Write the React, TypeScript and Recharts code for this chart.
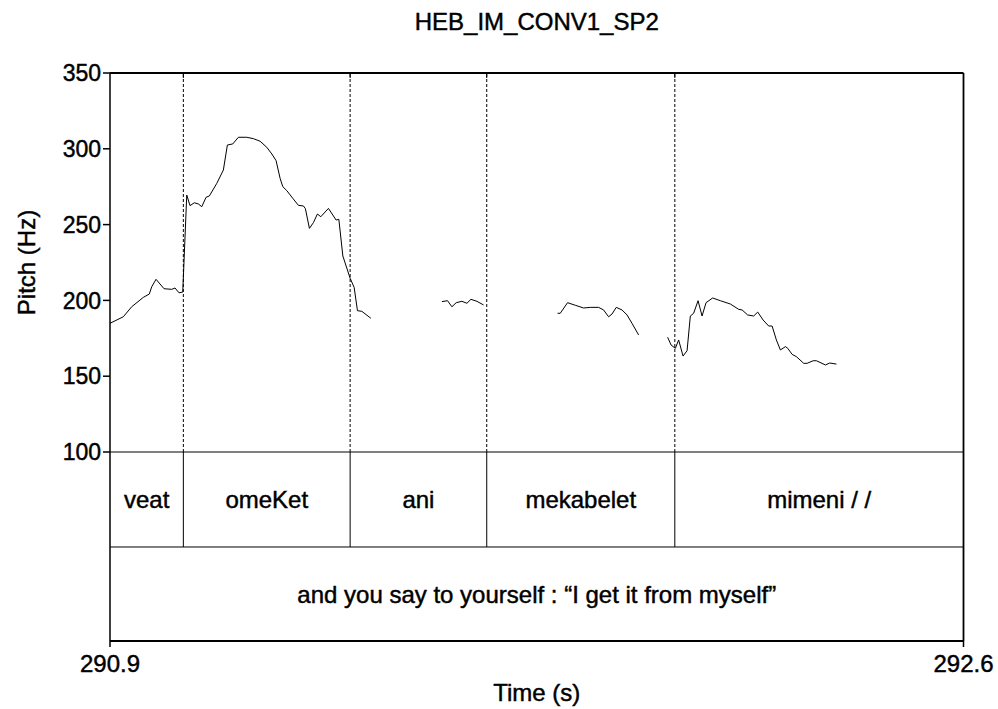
import React from 'react';
import { ComposedChart, Line, XAxis, YAxis, ReferenceLine, ReferenceArea, Label } from 'recharts';

const FONT = '"Liberation Sans", Arial, Helvetica, sans-serif';
const TITLE = 'HEB_IM_CONV1_SP2';
const X_LABEL = 'Time (s)';
const Y_LABEL = 'Pitch (Hz)';
const X_MIN = 290.9;
const X_MAX = 292.6;
const X_TICKS = [290.9, 292.6];
const Y_TICKS = [100, 150, 200, 250, 300, 350];
const Y_MAX = 350;
const PITCH_FLOOR = 100;
// tier rows sit below the pitch range on the same vertical axis
const TIER_MID = 37.34;
const Y_MIN = -24.67;

const WORD_BOUNDARIES = [291.0461, 291.3783, 291.6504, 292.025];
const WORD_LABELS = ['veat', 'omeKet', 'ani', 'mekabelet', 'mimeni / /'];
const SENTENCE_LABEL = 'and you say to yourself : \u201CI get it from myself\u201D';

const seg1Time = [290.900, 290.9265, 290.9432, 290.9664, 290.9783, 290.9831, 290.9917, 291.0076, 291.0230, 291.0295,
  291.0375, 291.0449, 291.0529, 291.0594, 291.0680, 291.0760, 291.0828, 291.0913, 291.0979, 291.1127,
  291.1258, 291.1338, 291.1445, 291.1557, 291.1724, 291.1856, 291.1989, 291.2123, 291.2223, 291.2308,
  291.2388, 291.2442, 291.2522, 291.2641, 291.2753, 291.2852, 291.2892, 291.2972, 291.3052, 291.3131,
  291.3199, 291.3351, 291.3504, 291.3558, 291.3638, 291.3783, 291.3863, 291.3929, 291.4016, 291.4196];
const seg1Hz = [184.9, 189.2, 195.8, 202.0, 204.2, 209.0, 213.9, 207.7, 207.3, 208.2,
  205.0, 205.5, 269.5, 262.5, 264.4, 263.6, 261.8, 268.0, 268.9, 277.2,
  286.0, 302.5, 303.2, 307.6, 307.6, 306.7, 305.0, 301.0, 296.6, 292.2,
  280.5, 275.0, 272.4, 267.3, 262.7, 262.3, 260.5, 247.5, 251.3, 257.0,
  255.2, 260.7, 253.0, 253.5, 229.3, 214.6, 208.6, 193.2, 192.8, 188.2];

const seg2Time = [291.5611, 291.5723, 291.5810, 291.5896, 291.6009, 291.6109, 291.6189, 291.6308, 291.6440];
const seg2Hz = [199.2, 199.8, 195.8, 198.5, 199.4, 198.1, 200.7, 199.4, 197.0];

const seg3Time = [291.7915, 291.7968, 291.8114, 291.8267, 291.8433, 291.8566, 291.8732, 291.8831, 291.8931, 291.8999,
  291.9084, 291.9198, 291.9298, 291.9397, 291.9529];
const seg3Hz = [191.5, 191.5, 198.5, 196.8, 195.0, 195.4, 195.4, 193.7, 189.2, 191.0,
  195.4, 193.7, 190.4, 184.9, 177.2];

const seg4Time = [292.0107, 292.0175, 292.0261, 292.0326, 292.0414, 292.0494, 292.0559, 292.0625, 292.0713, 292.0793,
  292.0872, 292.1004, 292.1157, 292.1357, 292.1522, 292.1590, 292.1701, 292.1821, 292.1901, 292.2008,
  292.2120, 292.2188, 292.2273, 292.2353, 292.2453, 292.2499, 292.2586, 292.2672, 292.2817, 292.2885,
  292.3005, 292.3071, 292.3250, 292.3335, 292.3469];
const seg4Hz = [175.7, 170.6, 168.4, 173.9, 163.3, 166.8, 189.7, 191.5, 199.8, 189.7,
  198.5, 201.6, 199.8, 197.6, 194.1, 193.7, 190.4, 189.7, 192.3, 187.1,
  183.1, 183.1, 173.9, 167.3, 169.5, 168.4, 164.4, 162.9, 158.5, 158.5,
  160.2, 160.2, 157.4, 158.7, 158.0];

const toRows = (ts: number[], hs: number[]) => ts.map((t, i) => ({ t, hz: hs[i] }));
const SEGMENTS = [toRows(seg1Time, seg1Hz), toRows(seg2Time, seg2Hz), toRows(seg3Time, seg3Hz), toRows(seg4Time, seg4Hz)];

const W = 998;
const H = 709;
const TXT_STROKE = 0.45;

const XLabel = (props: any) => {
  const vb = props.viewBox || {};
  return (
    <text x={vb.x + vb.width / 2} y={vb.y + 60} textAnchor="middle" fontSize={24} fontFamily={FONT} fill="#000"
      stroke="#000" strokeWidth={TXT_STROKE}>
      {X_LABEL}
    </text>
  );
};

const YLabel = (props: any) => {
  const vb = props.viewBox || {};
  const cy = vb.y + (vb.height * (Y_MAX - (Y_MAX + PITCH_FLOOR) / 2)) / (Y_MAX - Y_MIN);
  const cx = vb.x + 27;
  return (
    <text x={cx} y={cy} transform={`rotate(-90 ${cx} ${cy})`} textAnchor="middle" dominantBaseline="central"
      fontSize={24} fontFamily={FONT} fill="#000" stroke="#000" strokeWidth={TXT_STROKE}>
      {Y_LABEL}
    </text>
  );
};

export default function App() {
  const edges = [X_MIN, ...WORD_BOUNDARIES, X_MAX];
  const lbl = (value: string) => ({ value, position: 'center' as const, fill: '#000', fontSize: 24, fontFamily: FONT, stroke: '#000', strokeWidth: TXT_STROKE });
  return (
    <div style={{ position: 'relative', width: W, height: H, fontFamily: FONT }}>
      <style>{'body{margin:0;}'}</style>
      <div style={{ position: 'absolute', left: 110, width: 853.5, top: 8, textAlign: 'center', fontSize: 24, lineHeight: '28px', color: '#000', fontFamily: FONT, WebkitTextStroke: `${TXT_STROKE}px #000` }}>
        {TITLE}
      </div>
      <ComposedChart width={W} height={H} margin={{ top: 73, right: 34.5, bottom: 0, left: 0 }}>
        <XAxis type="number" dataKey="t" domain={[X_MIN, X_MAX]} ticks={X_TICKS} interval={0} allowDataOverflow
          height={68} tickSize={6} tickMargin={8} tickFormatter={(v: number) => v.toFixed(1)}
          axisLine={{ stroke: '#000', strokeWidth: 1.8 }} tickLine={{ stroke: '#000', strokeWidth: 1.5 }}
          tick={{ fill: '#000', fontSize: 24, fontFamily: FONT, stroke: '#000', strokeWidth: TXT_STROKE }}
          label={<Label content={XLabel} />} />
        <YAxis type="number" domain={[Y_MIN, Y_MAX]} ticks={Y_TICKS} interval={0} allowDataOverflow width={110}
          tickSize={7} tickMargin={2}
          axisLine={{ stroke: '#000', strokeWidth: 1.5 }} tickLine={{ stroke: '#000', strokeWidth: 1.5 }}
          tick={{ fill: '#000', fontSize: 23, fontFamily: FONT, stroke: '#000', strokeWidth: TXT_STROKE }}
          label={<Label content={YLabel} />} />
        <ReferenceLine y={Y_MAX} stroke="#000" strokeWidth={1.8} ifOverflow="visible" />
        <ReferenceLine x={X_MAX} stroke="#000" strokeWidth={1.8} ifOverflow="visible" />
        <ReferenceLine y={PITCH_FLOOR} stroke="#000" strokeWidth={1} />
        <ReferenceLine y={TIER_MID} stroke="#000" strokeWidth={1} />
        {WORD_BOUNDARIES.map((b) => (
          <ReferenceLine key={`d${b}`} segment={[{ x: b, y: PITCH_FLOOR }, { x: b, y: Y_MAX }]} stroke="#000" strokeWidth={1} strokeDasharray="3 2" />
        ))}
        {WORD_BOUNDARIES.map((b) => (
          <ReferenceLine key={`t${b}`} segment={[{ x: b, y: Y_MAX - 3.3 }, { x: b, y: Y_MAX }]} stroke="#000" strokeWidth={1} />
        ))}
        {WORD_BOUNDARIES.map((b) => (
          <ReferenceLine key={`s${b}`} segment={[{ x: b, y: TIER_MID }, { x: b, y: PITCH_FLOOR }]} stroke="#000" strokeWidth={1} />
        ))}
        {WORD_LABELS.map((w, i) => (
          <ReferenceArea key={`w${i}`} x1={edges[i]} x2={edges[i + 1]} y1={TIER_MID} y2={PITCH_FLOOR}
            fill="#fff" fillOpacity={0} stroke="none" label={lbl(w)} />
        ))}
        <ReferenceArea x1={X_MIN} x2={X_MAX} y1={Y_MIN} y2={TIER_MID} fill="#fff" fillOpacity={0} stroke="none" label={lbl(SENTENCE_LABEL)} />
        {SEGMENTS.map((d, i) => (
          <Line key={`seg${i}`} data={d} dataKey="hz" type="linear" stroke="#000" strokeWidth={1} dot={false}
            activeDot={false} isAnimationActive={false} />
        ))}
      </ComposedChart>
    </div>
  );
}
